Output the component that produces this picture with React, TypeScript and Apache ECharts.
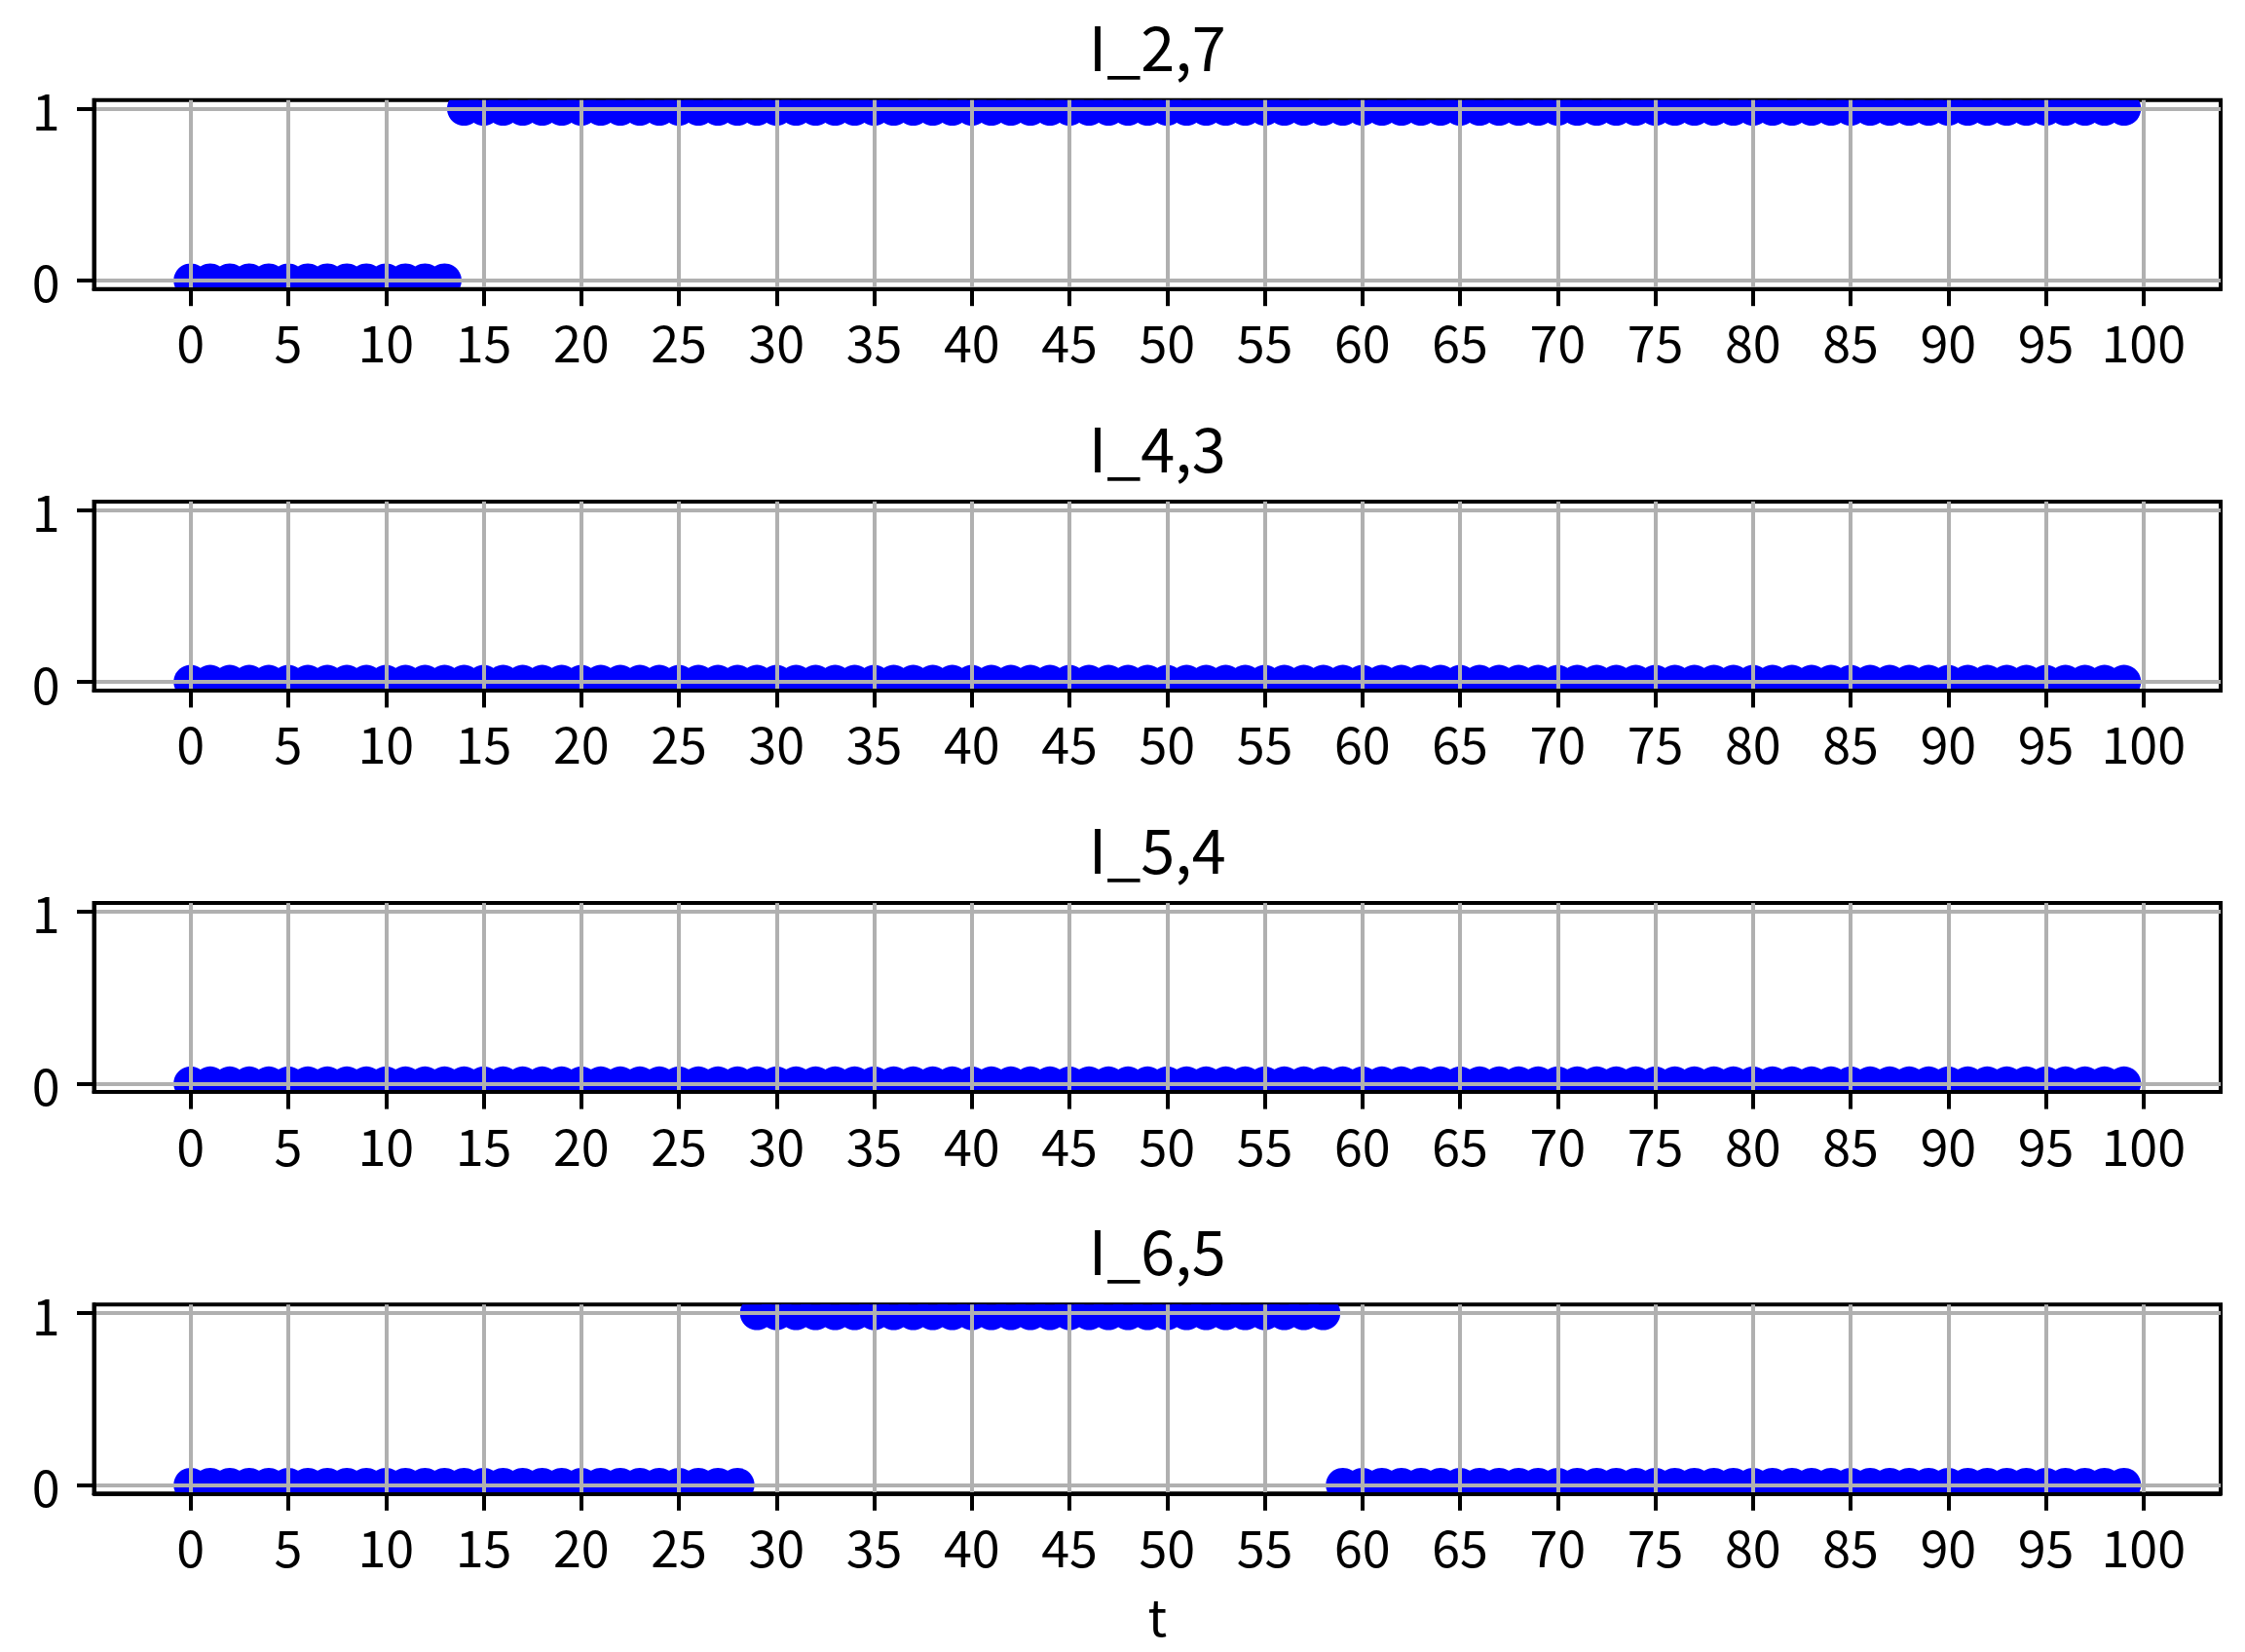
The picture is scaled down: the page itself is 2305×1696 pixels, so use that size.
import React, { useEffect, useRef } from "react";
import * as echarts from "echarts";

// time index t
const T: number[] = Array.from({ length: 100 }, (_, i) => i);

const TITLES = ["I_2,7", "I_4,3", "I_5,4", "I_6,5"];

const I_2_7 = [
  0, 0, 0, 0, 0, 0, 0, 0, 0, 0, 0, 0, 0, 0, 1, 1, 1, 1, 1, 1,
  1, 1, 1, 1, 1, 1, 1, 1, 1, 1, 1, 1, 1, 1, 1, 1, 1, 1, 1, 1,
  1, 1, 1, 1, 1, 1, 1, 1, 1, 1, 1, 1, 1, 1, 1, 1, 1, 1, 1, 1,
  1, 1, 1, 1, 1, 1, 1, 1, 1, 1, 1, 1, 1, 1, 1, 1, 1, 1, 1, 1,
  1, 1, 1, 1, 1, 1, 1, 1, 1, 1, 1, 1, 1, 1, 1, 1, 1, 1, 1, 1,
];
const I_4_3 = [
  0, 0, 0, 0, 0, 0, 0, 0, 0, 0, 0, 0, 0, 0, 0, 0, 0, 0, 0, 0,
  0, 0, 0, 0, 0, 0, 0, 0, 0, 0, 0, 0, 0, 0, 0, 0, 0, 0, 0, 0,
  0, 0, 0, 0, 0, 0, 0, 0, 0, 0, 0, 0, 0, 0, 0, 0, 0, 0, 0, 0,
  0, 0, 0, 0, 0, 0, 0, 0, 0, 0, 0, 0, 0, 0, 0, 0, 0, 0, 0, 0,
  0, 0, 0, 0, 0, 0, 0, 0, 0, 0, 0, 0, 0, 0, 0, 0, 0, 0, 0, 0,
];
const I_5_4 = [
  0, 0, 0, 0, 0, 0, 0, 0, 0, 0, 0, 0, 0, 0, 0, 0, 0, 0, 0, 0,
  0, 0, 0, 0, 0, 0, 0, 0, 0, 0, 0, 0, 0, 0, 0, 0, 0, 0, 0, 0,
  0, 0, 0, 0, 0, 0, 0, 0, 0, 0, 0, 0, 0, 0, 0, 0, 0, 0, 0, 0,
  0, 0, 0, 0, 0, 0, 0, 0, 0, 0, 0, 0, 0, 0, 0, 0, 0, 0, 0, 0,
  0, 0, 0, 0, 0, 0, 0, 0, 0, 0, 0, 0, 0, 0, 0, 0, 0, 0, 0, 0,
];
const I_6_5 = [
  0, 0, 0, 0, 0, 0, 0, 0, 0, 0, 0, 0, 0, 0, 0, 0, 0, 0, 0, 0,
  0, 0, 0, 0, 0, 0, 0, 0, 0, 1, 1, 1, 1, 1, 1, 1, 1, 1, 1, 1,
  1, 1, 1, 1, 1, 1, 1, 1, 1, 1, 1, 1, 1, 1, 1, 1, 1, 1, 1, 0,
  0, 0, 0, 0, 0, 0, 0, 0, 0, 0, 0, 0, 0, 0, 0, 0, 0, 0, 0, 0,
  0, 0, 0, 0, 0, 0, 0, 0, 0, 0, 0, 0, 0, 0, 0, 0, 0, 0, 0, 0,
];
const SERIES = [I_2_7, I_4_3, I_5_4, I_6_5];

const X_TICKS = [0, 5, 10, 15, 20, 25, 30, 35, 40, 45, 50, 55, 60, 65, 70, 75, 80, 85, 90, 95, 100];
const Y_TICKS = [0, 1];
const X_LABEL = "t";

const FONT = '"Noto Sans CJK JP", "Noto Sans", sans-serif';
const W = 2305;
const H = 1696;
const GRID_LEFT = 96.5;
const GRID_RIGHT_EDGE = 2280;
const GRID_TOP0 = 102.7;
const GRID_STEP = 412.2;
const GRID_H = 194;

export default function App() {
  const ref = useRef<HTMLDivElement>(null);
  useEffect(() => {
    if (!ref.current) return;
    const chart = echarts.init(ref.current, null, { renderer: "svg" });
    const n = SERIES.length;
    const grids = SERIES.map((_, i) => ({
      left: GRID_LEFT,
      top: GRID_TOP0 + i * GRID_STEP,
      width: GRID_RIGHT_EDGE - GRID_LEFT,
      height: GRID_H,
      show: true,
      borderColor: "#000",
      borderWidth: 4,
      backgroundColor: "transparent",
      containLabel: false,
    }));
    const xAxes = SERIES.map((_, i) => ({
      type: "value",
      gridIndex: i,
      min: -4.95,
      max: 103.95,
      z: 5,
      name: i === n - 1 ? X_LABEL : "",
      nameLocation: "middle",
      nameGap: 98,
      nameTextStyle: { fontSize: 52, color: "#000", fontFamily: FONT },
      axisLine: { show: true, onZero: false, lineStyle: { color: "#000", width: 4 } },
      axisTick: {
        show: true,
        customValues: X_TICKS,
        length: 17.5,
        inside: false,
        lineStyle: { color: "#000", width: 4 },
      },
      axisLabel: {
        show: true,
        customValues: X_TICKS,
        margin: 27,
        fontSize: 52,
        color: "#000",
        fontFamily: FONT,
      },
      splitLine: { show: true, lineStyle: { color: "#b0b0b0", width: 4 } },
    }));
    const yAxes = SERIES.map((_, i) => ({
      type: "value",
      gridIndex: i,
      min: -0.05,
      max: 1.05,
      z: 5,
      axisLine: { show: true, onZero: false, lineStyle: { color: "#000", width: 4 } },
      axisTick: {
        show: true,
        customValues: Y_TICKS,
        length: 17.5,
        inside: false,
        lineStyle: { color: "#000", width: 4 },
      },
      axisLabel: {
        show: true,
        customValues: Y_TICKS,
        margin: 35,
        fontSize: 52,
        color: "#000",
        fontFamily: FONT,
      },
      splitLine: { show: true, lineStyle: { color: "#b0b0b0", width: 4 } },
    }));
    const series = SERIES.map((vals, i) => ({
      type: "custom",
      name: TITLES[i],
      xAxisIndex: i,
      yAxisIndex: i,
      clip: true,
      z: 2,
      data: T.map((t, k) => [t, vals[k]]),
      encode: { x: 0, y: 1 },
      renderItem: (_params: any, api: any) => {
        const p = api.coord([api.value(0), api.value(1)]);
        return {
          type: "circle",
          shape: { cx: p[0], cy: p[1], r: 17.5 },
          style: { fill: "#0000ff", stroke: null },
        };
      },
    }));
    const titles = TITLES.map((t, i) => ({
      text: t,
      left: (GRID_LEFT + GRID_RIGHT_EDGE) / 2,
      top: GRID_TOP0 + i * GRID_STEP - 89,
      textAlign: "center",
      padding: 0,
      textStyle: { fontSize: 63, fontWeight: "normal", color: "#000", fontFamily: FONT },
    }));
    chart.setOption({
      animation: false,
      backgroundColor: "#fff",
      textStyle: { fontFamily: FONT },
      title: titles,
      grid: grids,
      xAxis: xAxes,
      yAxis: yAxes,
      series,
    });
    return () => chart.dispose();
  }, []);
  return (
    <div
      ref={ref}
      style={{ position: "fixed", left: 0, top: 0, width: W, height: H, background: "#fff" }}
    />
  );
}
